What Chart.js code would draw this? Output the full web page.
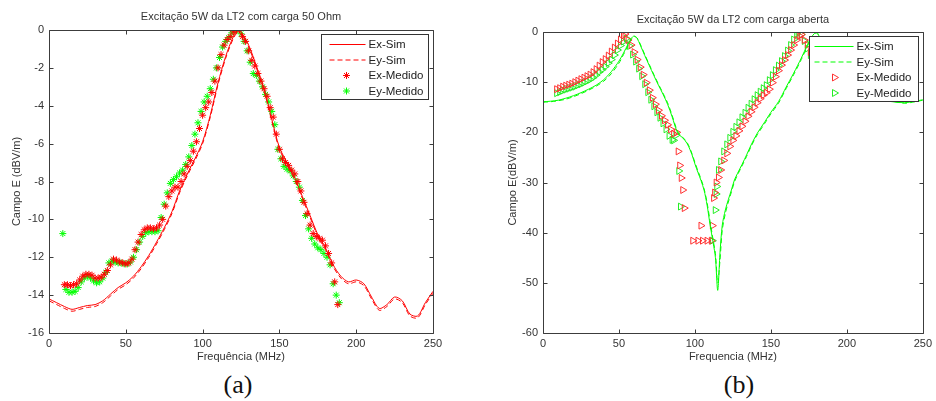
<!DOCTYPE html>
<html lang="pt">
<head>
  <meta charset="UTF-8" />
  <title>Excitação 5W da LT2</title>
  <script src="https://cdn.jsdelivr.net/npm/chart.js"></script>
  <style>
    body { margin: 0; background: #fff; width: 936px; height: 401px; overflow: hidden; position: relative; }
    .painel { position: absolute; top: 0; width: 468px; height: 366px; }
    .rotulo { position: absolute; top: 370px; width: 60px; text-align: center; font-family: "Liberation Serif", "Times New Roman", serif; font-size: 26px; color: #111; line-height: 30px; }
  </style>
</head>
<body>
  <div class="painel" style="left:0"><canvas id="grafA"></canvas></div>
  <div class="painel" style="left:468px"><canvas id="grafB"></canvas></div>
  <div class="rotulo" style="left:208px">(a)</div>
  <div class="rotulo" style="left:709px">(b)</div>

  <script>
    // ---- (a) carga 50 Ohm ----
    const freqSimA = [0,5,10,15,20,25,30,35,40,45,50,55,60,65,70,75,80,85,90,95,100,105,110,115,120,123,125,130,135,140,145,150,155,160,165,170,175,180,185,190,195,200,205,210,215,220,225,230,235,240,245,250];
    const exSimA = [-14.2,-14.4,-14.6,-14.75,-14.65,-14.55,-14.5,-14.3,-13.95,-13.6,-13.35,-13.0,-12.5,-11.9,-11.2,-10.45,-9.6,-8.5,-7.6,-6.8,-5.9,-4.5,-2.8,-1.4,-0.35,0,-0.1,-0.8,-1.9,-3.1,-4.7,-6.2,-7.0,-7.8,-8.8,-9.8,-10.8,-11.5,-12.4,-13.0,-13.3,-13.2,-13.4,-14.1,-14.7,-14.5,-14.1,-14.3,-15.0,-15.1,-14.4,-13.8];
    const eySimA = [-14.3,-14.5,-14.7,-14.85,-14.75,-14.65,-14.6,-14.4,-14.05,-13.7,-13.45,-13.1,-12.6,-12.0,-11.3,-10.55,-9.7,-8.6,-7.7,-6.9,-6.0,-4.6,-2.9,-1.5,-0.45,-0.1,-0.2,-0.9,-2.0,-3.2,-4.8,-6.3,-7.1,-7.9,-8.9,-9.9,-10.9,-11.6,-12.5,-13.1,-13.4,-13.3,-13.5,-14.2,-14.8,-14.6,-14.2,-14.4,-15.1,-15.2,-14.5,-13.9];
    const freqExMedA = [10,12,14,16,18,20,22,24,26,28,30,32,34,36,38,40,42,44,46,48,50,52,54,56,58,60,62,64,66,68,70,72,74,76,78,80,82,84,86,88,90,92,94,96,98,100,102,104,106,108,110,112,114,116,118,120,122,124,126,128,130,132,134,136,138,140,142,144,146,148,150,152,154,156,158,160,162,164,166,168,170,172,174,176,178,180,182,184,186,188];
    const exMedA = [-13.45,-13.45,-13.5,-13.45,-13.4,-13.2,-13.0,-12.9,-12.9,-12.95,-13.1,-13.1,-13.05,-12.9,-12.7,-12.4,-12.1,-12.15,-12.25,-12.3,-12.35,-12.3,-12.1,-11.6,-11.2,-10.8,-10.55,-10.45,-10.45,-10.5,-10.45,-10.3,-10.0,-9.3,-8.8,-8.5,-8.3,-8.3,-8.0,-7.6,-7.2,-6.9,-6.4,-5.9,-5.2,-4.5,-4.1,-3.8,-3.3,-2.7,-2.0,-1.3,-0.8,-0.5,-0.35,-0.1,0,0,-0.35,-0.6,-1.1,-1.6,-1.9,-2.3,-2.7,-3.1,-3.5,-4.1,-4.6,-5.5,-6.3,-6.8,-7.0,-7.15,-7.4,-7.6,-8.0,-8.5,-9.1,-9.7,-10.3,-10.75,-10.9,-11.0,-11.1,-11.4,-11.8,-12.3,-13.3,-14.5];
    const freqEyMedA = [9,11,13,15,17,19,21,23,25,27,29,31,33,35,37,39,41,43,45,47,49,51,53,55,57,59,61,63,65,67,69,71,73,75,77,79,81,83,85,87,89,91,93,95,97,99,101,103,105,107,109,111,113,115,117,119,121,123,125,127,129,131,133,135,137,139,141,143,145,147,149,151,153,155,157,159,161,163,165,167,169,171,173,175,177,179,181,183,185,187,189];
    const eyMedA = [-10.75,-13.7,-13.85,-13.85,-13.8,-13.6,-13.3,-13.1,-13.0,-13.1,-13.25,-13.35,-13.3,-13.1,-12.8,-12.3,-12.2,-12.25,-12.3,-12.3,-12.35,-12.35,-12.25,-12.0,-11.6,-11.2,-10.9,-10.7,-10.65,-10.65,-10.65,-10.6,-9.9,-9.2,-8.6,-8.1,-7.9,-7.75,-7.55,-7.4,-7.1,-6.7,-6.1,-5.5,-4.9,-4.3,-3.8,-3.5,-3.1,-2.6,-2.0,-1.45,-0.9,-0.6,-0.4,-0.15,0,0,-0.2,-0.6,-1.1,-1.7,-2.3,-2.4,-2.7,-3.0,-3.4,-3.8,-4.3,-5.0,-6.3,-6.8,-7.2,-7.35,-7.45,-7.7,-8.0,-8.3,-9.0,-9.8,-10.5,-11.0,-11.3,-11.5,-11.6,-11.8,-12.0,-12.4,-13.4,-14.0,-14.4];
    const ticksXA = [0, 50, 100, 150, 200, 250];
    const ticksYA = [-16, -14, -12, -10, -8, -6, -4, -2, 0];

    // ---- (b) carga aberta ----
    const freqSimB = [0,5,10,15,20,25,30,35,40,45,50,53,56,58,60,62,64,67,70,73,76,79,82,85,88,90,92,95,98,100,102,104,106,108,110,112,113.5,115,116.5,118,120,122,124,126,128,131,134,137,141,146,150,155,160,165,170,174,177,180,183,186,190,195,200,210,220,230,238,245,250];
    const exSimB = [-13.9,-13.8,-13.6,-13.2,-12.7,-12.1,-11.4,-10.6,-9.5,-7.9,-5.8,-4.2,-2.4,-1.3,-0.8,-1.3,-2.6,-4.7,-6.7,-8.7,-10.6,-12.4,-14.4,-16.9,-19.7,-20.6,-21.1,-22.3,-24.4,-26.3,-28.0,-29.6,-31.5,-34.5,-38.5,-42.0,-45.0,-51.5,-44.0,-38.5,-35.5,-33.4,-31.5,-29.5,-28.2,-26.4,-24.5,-22.5,-20.2,-17.9,-16.0,-13.9,-11.0,-8.2,-5.2,-2.6,-0.9,0,-1.8,-3.8,-6.0,-8.3,-10.2,-12.3,-13.4,-13.9,-14.1,-13.8,-13.5];
    const eySimB = [-14.0,-13.9,-13.7,-13.4,-12.9,-12.3,-11.6,-10.8,-9.8,-8.3,-6.2,-4.5,-2.7,-1.5,-0.9,-1.2,-2.4,-4.5,-6.5,-8.5,-10.4,-12.2,-14.1,-16.6,-19.4,-20.4,-21.0,-22.1,-24.2,-26.0,-27.7,-29.3,-31.2,-34.0,-37.8,-41.5,-44.2,-50.0,-45.5,-39.5,-36.2,-33.9,-31.9,-29.9,-28.5,-26.7,-24.8,-22.8,-20.5,-18.2,-16.3,-14.2,-11.3,-8.5,-5.5,-2.9,-1.1,-0.2,-1.6,-3.6,-5.8,-8.1,-10.0,-12.1,-13.3,-13.8,-14.2,-13.9,-13.6];
    const freqExMedB = [9,11,13,15,17,19,21,23,25,27,29,31,33,35,37,39,41,43,45,47,49,51,53,54,56,58,60,62,64,66,68,70,72,74,76,78,80,82,84,86,88,89,90,91,92,93,98.6,102,104,105,108,110.8,111.5,112.3,113,114,115.5,117,119,121,123,125,127,129,131,133,135,137,139,141,143,145,147,149,151,153,155,157,159,161,163,165,167,169,170,172,174,176];
    const exMedB = [-11.4,-11.2,-10.9,-10.7,-10.5,-10.3,-10.0,-9.7,-9.4,-9.1,-8.8,-8.5,-8.0,-7.4,-6.7,-6.0,-5.4,-4.7,-3.9,-3.1,-2.3,-1.5,-0.7,-0.4,-1.6,-2.6,-4.0,-5.5,-7.0,-8.5,-10.1,-11.6,-13.1,-14.4,-15.6,-16.7,-17.6,-18.5,-19.4,-20.3,-20.0,-23.8,-26.6,-29.1,-31.5,-35.1,-41.6,-41.6,-38.6,-41.6,-41.6,-41.6,-38.6,-33.1,-32.0,-30.0,-29.0,-27.5,-25.6,-24.2,-22.8,-21.6,-20.7,-19.7,-18.8,-17.8,-16.8,-15.9,-15.0,-14.1,-13.3,-12.6,-12.1,-11.4,-10.1,-8.9,-7.7,-6.6,-5.6,-4.6,-3.6,-2.6,-1.6,-0.8,-0.5,-1.6,-2.6,-4.0];
    const freqEyMedB = [9,11,13,15,17,19,21,23,25,27,29,31,33,35,37,39,41,43,45,47,49,51,53,55,57,59,61,63,65,67,69,71,73,75,77,79,81,83,85,86,87.5,89.4,90.5,111.5,113.4,114,114.4,115.5,117,119,121,123,125,127,129,131,133,135,137,139,141,143,145,147,149,151,153,155,157,159,161,163,165,167,168,170,172,174,176];
    const eyMedB = [-12.2,-12.0,-11.7,-11.5,-11.3,-11.1,-10.9,-10.6,-10.4,-10.1,-9.8,-9.5,-9.1,-8.6,-8.0,-7.5,-6.9,-6.2,-5.5,-4.6,-3.6,-2.7,-1.9,-1.3,-2.8,-4.5,-5.9,-7.3,-8.8,-10.4,-12.0,-13.5,-14.8,-16.0,-17.1,-18.2,-19.4,-20.7,-21.5,-21.6,-20.6,-27.7,-34.8,-41.6,-35.5,-32.3,-30.8,-27.5,-25.8,-23.8,-22.4,-21.1,-19.9,-18.9,-18.0,-17.0,-16.1,-15.1,-14.3,-13.4,-12.6,-11.9,-11.2,-10.6,-9.6,-8.6,-7.6,-6.7,-5.8,-4.8,-3.7,-2.6,-1.5,-0.4,0,-0.5,-1.8,-3.3,-4.6];
    const ticksXB = [0, 50, 100, 150, 200, 250];
    const ticksYB = [-60, -50, -40, -30, -20, -10, 0];

    const fonte = '"Liberation Sans", Arial, sans-serif';
    const cinza = '#333';
    const pares = (xs, ys) => xs.map((x, i) => ({ x, y: ys[i] }));

    // caixa do eixo com marcas internas (estilo MATLAB) e legenda por cima das curvas
    const moldura = {
      id: 'moldura',
      afterDatasetsDraw(chart, args, opts) {
        const { ctx, chartArea: a, scales: { x, y } } = chart;
        const l = Math.round(a.left) + 0.5, r = Math.round(a.right) + 0.5;
        const t = Math.round(a.top) + 0.5, b = Math.round(a.bottom) + 0.5;
        ctx.save();
        ctx.strokeStyle = '#3c3c3c';
        ctx.lineWidth = 1;
        ctx.beginPath();
        ctx.rect(l, t, r - l, b - t);
        x.ticks.forEach(tk => {
          const px = Math.round(x.getPixelForValue(tk.value)) + 0.5;
          ctx.moveTo(px, b); ctx.lineTo(px, b - 4);
          ctx.moveTo(px, t); ctx.lineTo(px, t + 4);
        });
        y.ticks.forEach(tk => {
          const py = Math.round(y.getPixelForValue(tk.value)) + 0.5;
          ctx.moveTo(l, py); ctx.lineTo(l + 4, py);
          ctx.moveTo(r, py); ctx.lineTo(r - 4, py);
        });
        ctx.stroke();

        // legenda
        const w = opts.largura, h = 65;
        const x0 = Math.round(a.right - w - 5) + 0.5, y0 = Math.round(a.top + 4) + 0.5;
        ctx.fillStyle = '#fff';
        ctx.fillRect(x0, y0, w, h);
        ctx.strokeStyle = '#333';
        ctx.strokeRect(x0, y0, w, h);
        ctx.font = '11.5px ' + fonte;
        ctx.textBaseline = 'middle';
        chart.data.datasets.forEach((ds, i) => {
          const yy = y0 + 10 + i * 15.5;
          ctx.strokeStyle = ds.borderColor;
          ctx.lineWidth = 1;
          if (ds.showLine !== false) {
            ctx.setLineDash(ds.borderDash || []);
            ctx.beginPath();
            ctx.moveTo(x0 + opts.linhaIni, yy);
            ctx.lineTo(x0 + 44, yy);
            ctx.stroke();
            ctx.setLineDash([]);
          } else {
            const cx = x0 + 25, r = ds.pointRadius;
            ctx.beginPath();
            if (ds.pointStyle === 'star') {
              const d = r * 0.707;
              ctx.moveTo(cx - r, yy); ctx.lineTo(cx + r, yy);
              ctx.moveTo(cx, yy - r); ctx.lineTo(cx, yy + r);
              ctx.moveTo(cx - d, yy - d); ctx.lineTo(cx + d, yy + d);
              ctx.moveTo(cx - d, yy + d); ctx.lineTo(cx + d, yy - d);
            } else {
              ctx.moveTo(cx + r, yy);
              ctx.lineTo(cx - r / 2, yy - r * 0.866);
              ctx.lineTo(cx - r / 2, yy + r * 0.866);
              ctx.closePath();
            }
            ctx.stroke();
          }
          ctx.fillStyle = '#222';
          ctx.fillText(ds.label, x0 + 47, yy + 0.5);
        });
        ctx.restore();
      }
    };

    function criaGrafico(id, cfg) {
      return new Chart(document.getElementById(id), {
        type: 'scatter',
        data: { datasets: cfg.datasets },
        options: {
          responsive: true,
          maintainAspectRatio: false,
          animation: false,
          layout: { padding: cfg.padding },
          plugins: {
            legend: { display: false },
            tooltip: { enabled: false },
            title: {
              display: true,
              text: cfg.titulo,
              fullSize: false,
              color: cinza,
              font: { family: fonte, size: 11, weight: 'normal' },
              padding: cfg.tituloPad
            },
            moldura: { largura: cfg.largLegenda, linhaIni: cfg.linhaIni }
          },
          scales: {
            x: {
              type: 'linear',
              min: 0, max: 250,
              grid: { display: false, drawTicks: false },
              border: { display: false },
              afterBuildTicks: s => { s.ticks = cfg.ticksX.map(v => ({ value: v })); },
              afterFit: s => { s.height = 33; },
              ticks: { color: cinza, font: { family: fonte, size: 11 }, padding: 4, autoSkip: false, maxRotation: 0 },
              title: { display: true, text: cfg.tituloX, color: cinza, font: { family: fonte, size: 11 }, padding: { top: 0, bottom: 2 } }
            },
            y: {
              type: 'linear',
              min: cfg.ticksY[0], max: 0,
              grid: { display: false, drawTicks: false },
              border: { display: false },
              afterBuildTicks: s => { s.ticks = cfg.ticksY.map(v => ({ value: v })); },
              afterFit: s => { s.width = cfg.largY; },
              ticks: { color: cinza, font: { family: fonte, size: 11 }, padding: 5, autoSkip: false },
              title: { display: true, text: cfg.tituloY, color: cinza, font: { family: fonte, size: 11 }, padding: { top: 10, bottom: 0 } }
            }
          }
        },
        plugins: [moldura]
      });
    }

    const linha = (label, xs, ys, cor, dash) => ({
      label, data: pares(xs, ys), showLine: true, borderColor: cor, borderWidth: 1,
      borderDash: dash, pointRadius: 0, tension: 0.3, fill: false
    });
    const marcas = (label, xs, ys, cor, estilo, raio) => ({
      label, data: pares(xs, ys), showLine: false, borderColor: cor, backgroundColor: 'rgba(0,0,0,0)',
      borderWidth: 1, pointStyle: estilo, pointRadius: raio, rotation: estilo === 'triangle' ? 90 : 0
    });

    criaGrafico('grafA', {
      titulo: 'Excitação 5W da LT2 com carga 50 Ohm',
      tituloX: 'Frequência (MHz)',
      tituloY: 'Campo E (dBV/m)',
      padding: { left: 0, right: 35, top: 0, bottom: 0 },
      tituloPad: { top: 10, bottom: 6.8 },
      largY: 49,
      largLegenda: 107,
      linhaIni: 8,
      ticksX: ticksXA,
      ticksY: ticksYA,
      datasets: [
        linha('Ex-Sim', freqSimA, exSimA, '#ff0000', []),
        linha('Ey-Sim', freqSimA, eySimA, '#ff0000', [5, 3]),
        marcas('Ex-Medido', freqExMedA, exMedA, '#ff0000', 'star', 3.5),
        marcas('Ey-Medido', freqEyMedA, eyMedA, '#00ff00', 'star', 3.5)
      ]
    });

    criaGrafico('grafB', {
      titulo: 'Excitação 5W da LT2 com carga aberta',
      tituloX: 'Frequencia (MHz)',
      tituloY: 'Campo E(dBV/m)',
      padding: { left: 28, right: 10, top: 0, bottom: 0 },
      tituloPad: { top: 13, bottom: 5.8 },
      largY: 47,
      largLegenda: 109,
      linhaIni: 5,
      ticksX: ticksXB,
      ticksY: ticksYB,
      datasets: [
        linha('Ex-Sim', freqSimB, exSimB, '#00ff00', []),
        linha('Ey-Sim', freqSimB, eySimB, '#00ff00', [5, 3]),
        marcas('Ex-Medido', freqExMedB, exMedB, '#ff3030', 'triangle', 4),
        marcas('Ey-Medido', freqEyMedB, eyMedB, '#22ee22', 'triangle', 4)
      ]
    });
  </script>
</body>
</html>
